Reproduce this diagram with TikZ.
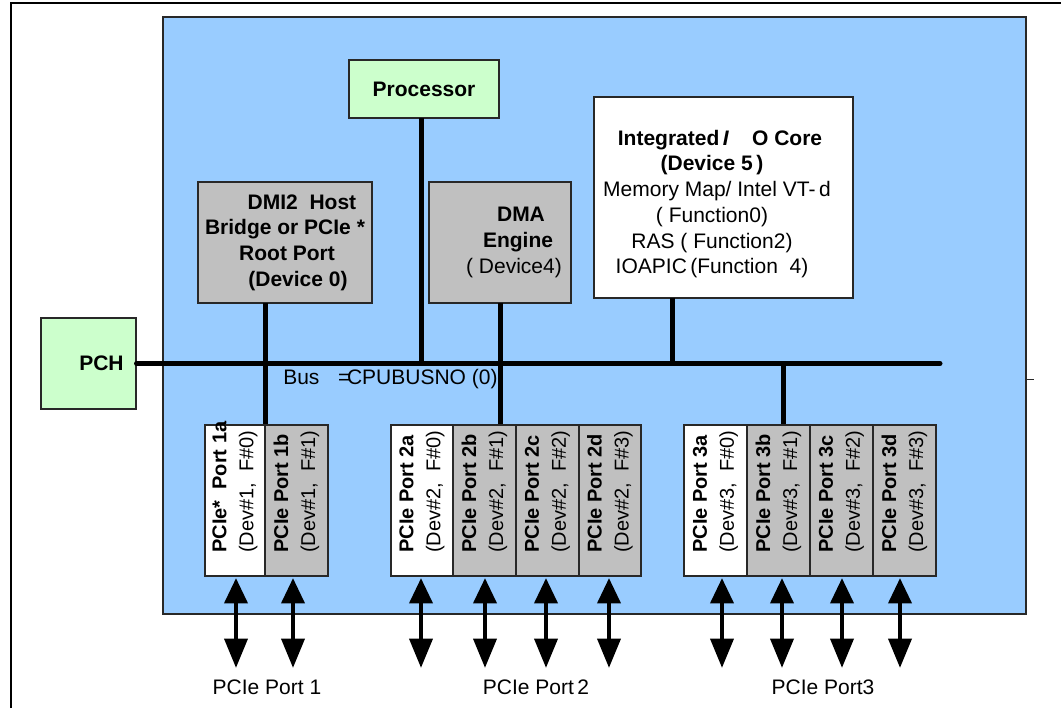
\documentclass[tikz,border=0pt]{standalone}
\usepackage{fontspec}
\setmainfont{Liberation Sans}
\usetikzlibrary{arrows.meta}
\definecolor{chipblue}{RGB}{153,204,255}
\definecolor{boxgreen}{RGB}{204,255,204}
\definecolor{boxgray}{RGB}{192,192,192}
\definecolor{edge}{RGB}{40,40,40}
\begin{document}
\begin{tikzpicture}[x=0.75pt,y=-0.75pt,
  txt/.style={inner sep=0pt, font=\fontsize{15.75}{19.3}\selectfont},
  blk/.style={draw=edge, line width=0.8pt, inner sep=0pt, align=center,
    font=\fontsize{15.75}{19.3}\selectfont},
  greenbox/.style={blk, fill=boxgreen},
  graybox/.style={blk, fill=boxgray},
  whitebox/.style={blk, fill=white},
  portbox/.style={draw=edge, line width=0.8pt, inner sep=0pt, minimum height=113.25pt},
  porttxt/.style={rotate=90, anchor=west, inner sep=0pt, align=left,
    font=\fontsize{15}{20.25}\selectfont},
  busline/.style={line width=3.75pt, line cap=round},
  conn/.style={line width=3.75pt},
  bidir/.style={line width=3.5pt,
    {Triangle[length=19pt,width=17pt]}-{Triangle[length=22pt,width=17pt]}}
]
\useasboundingbox (0,0) rectangle (1061,708);

% outer frame (top and left only)
\draw[line width=1.5pt] (11,708) -- (11,3) -- (1061,3);

% chip area
\node[draw=edge, line width=1pt, fill=chipblue, inner sep=0pt,
  minimum width=647.25pt, minimum height=447.75pt] (chip) at (594.5,315.5) {};
\coordinate (tickR) at (1034,379);
\draw[line width=0.6pt, edge] (chip.east |- tickR) -- (tickR);

% main boxes
\node[greenbox, minimum width=112.5pt, minimum height=43.5pt] (proc) at (424,89) {\textbf{Processor}};
\node[graybox, minimum width=130.5pt, minimum height=90.75pt] (dmi) at (285,242.5)
  {\textbf{\hspace*{25.5pt}DMI2\ \ Host}\\\textbf{Bridge or PCIe *}\\\textbf{\hspace*{3pt}Root Port}\\\textbf{\hspace*{19.5pt}(Device 0)}};
\node[graybox, minimum width=106.5pt, minimum height=90.75pt] (dma) at (500,242.5)
  {\textbf{\hspace*{31.5pt}DMA}\\\textbf{\hspace*{27pt}Engine}\\\hspace*{21pt}( Device4)};
\node[whitebox, minimum width=194.25pt, minimum height=150.75pt] (iio) at (723.5,197.5) {};
\node[txt, align=center] (iiotxt) at (712,204)
  {\textbf{\hspace*{12pt}Integrated\,\textit{I}\hspace{1.1em}O Core}\\
   \textbf{(Device 5\,)}\hspace*{39pt}\\
   \hspace*{7.5pt}Memory Map/ Intel VT-\,d\\
   ( Function0)\\
   RAS ( Function2)\\
   IOAPIC\,(Function\ \ 4)};
\node[greenbox, minimum width=71.25pt, minimum height=68.25pt] (pch) at (88.5,363.5) {\textbf{\hspace*{19.5pt}PCH}};

% bus
\coordinate (busR) at (940,363.5);
\draw[busline] (pch.east) -- (busR);
\node[txt, anchor=west] (buslbl) at (283,379) {Bus\hspace{14pt}=\kern-2.5pt CPUBUSNO (0)};

% port boxes
\node[portbox, fill=white,   minimum width=45pt]    (p1a) at (235,500.5) {};
\node[portbox, fill=boxgray, minimum width=47.25pt] (p1b) at (296.5,500.5) {};
\node[portbox, fill=white,   minimum width=46.5pt]  (p2a) at (422,500.5) {};
\node[portbox, fill=boxgray, minimum width=47.25pt] (p2b) at (484.5,500.5) {};
\node[portbox, fill=boxgray, minimum width=47.25pt] (p2c) at (547.5,500.5) {};
\node[portbox, fill=boxgray, minimum width=46.5pt]  (p2d) at (610,500.5) {};
\node[portbox, fill=white,   minimum width=47.25pt] (p3a) at (715.5,500.5) {};
\node[portbox, fill=boxgray, minimum width=47.25pt] (p3b) at (778.5,500.5) {};
\node[portbox, fill=boxgray, minimum width=47.25pt] (p3c) at (841.5,500.5) {};
\node[portbox, fill=boxgray, minimum width=47.25pt] (p3d) at (904.5,500.5) {};

\node[porttxt] (t1a) at (235,553)   {\textbf{PCIe*\ \ Port 1a}\\(Dev\#1,\ \ F\#0)};
\node[porttxt] (t1b) at (296.5,553) {\textbf{PCIe Port 1b}\\(Dev\#1,\ \ F\#1)};
\node[porttxt] (t2a) at (422,553)   {\textbf{PCIe Port 2a}\\(Dev\#2,\ \ F\#0)};
\node[porttxt] (t2b) at (484.5,553) {\textbf{PCIe Port 2b}\\(Dev\#2,\ \ F\#1)};
\node[porttxt] (t2c) at (547.5,553) {\textbf{PCIe Port 2c}\\(Dev\#2,\ \ F\#2)};
\node[porttxt] (t2d) at (610,553)   {\textbf{PCIe Port 2d}\\(Dev\#2,\ \ F\#3)};
\node[porttxt] (t3a) at (715.5,553) {\textbf{PCIe Port 3a}\\(Dev\#3,\ \ F\#0)};
\node[porttxt] (t3b) at (778.5,553) {\textbf{PCIe Port 3b}\\(Dev\#3,\ \ F\#1)};
\node[porttxt] (t3c) at (841.5,553) {\textbf{PCIe Port 3c}\\(Dev\#3,\ \ F\#2)};
\node[porttxt] (t3d) at (904.5,553) {\textbf{PCIe Port 3d}\\(Dev\#3,\ \ F\#3)};

% vertical connectors
\coordinate (procB) at (421,118);
\coordinate (dmiB) at (265,303);
\coordinate (dmaB) at (500,303);
\coordinate (iioB) at (672,298);
\coordinate (p3T) at (783,363.5);
\draw[conn] (procB) -- (procB |- busR);
\draw[conn] (dmiB) -- (dmiB |- p1a.north);
\draw[conn] (dmaB) -- (dmaB |- p2a.north);
\draw[conn] (iioB) -- (iioB |- busR);
\draw[conn] (p3T) -- (p3T |- p3b.north);

% external bidirectional arrows
\foreach \n/\x in {1/236,2/293,3/421,4/485,5/546,6/609,7/722,8/782,9/842,10/900}{
  \coordinate (at\n) at (\x,578);
  \coordinate (ab\n) at (\x,668);
  \draw[bidir] (at\n) -- (ab\n);
}

% bottom labels
\node[txt] (lbl1) at (267,687) {PCIe Port 1};
\node[txt] (lbl2) at (536,687) {PCIe Port\,2};
\node[txt] (lbl3) at (823,687) {PCIe Port3};
\end{tikzpicture}
\end{document}
